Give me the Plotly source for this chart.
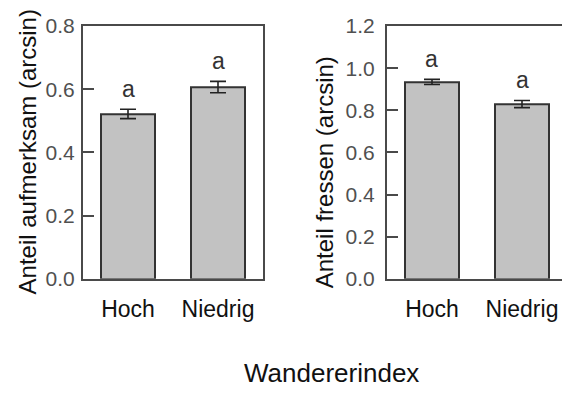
import plotly.graph_objects as go
from plotly.subplots import make_subplots

# Category labels (x axis)
categories = ["Hoch", "Niedrig"]

# Left panel: share attentive (arcsin-transformed), mean and SE
aufmerksam_mean = [0.522, 0.607]
aufmerksam_se = [0.015, 0.018]

# Right panel: share feeding (arcsin-transformed), mean and SE
fressen_mean = [0.935, 0.830]
fressen_se = [0.012, 0.017]

# Significance letters
letters_left = ["a", "a"]
letters_right = ["a", "a"]

left_ticks = [0.0, 0.2, 0.4, 0.6, 0.8]
right_ticks = [0.0, 0.2, 0.4, 0.6, 0.8, 1.0, 1.2]

FONT = "Liberation Sans, Arial, Helvetica, sans-serif"
W, H = 562, 401
BAR_FILL = "#c2c2c2"
BAR_LINE = "#333333"
AXIS_COL = "#4a4a4a"
TICK_FONT = dict(family=FONT, size=21, color="#505050")
CAT_FONT = dict(family=FONT, size=23, color="#111111")

fig = make_subplots(rows=1, cols=2)

for col, means, ses in [(1, aufmerksam_mean, aufmerksam_se), (2, fressen_mean, fressen_se)]:
    fig.add_trace(
        go.Bar(
            x=categories,
            y=means,
            width=0.61,
            marker=dict(color=BAR_FILL, line=dict(color=BAR_LINE, width=2)),
            error_y=dict(type="data", array=ses, color="#222222", thickness=1.6, width=8),
            showlegend=False,
            hoverinfo="skip",
        ),
        row=1, col=col,
    )

# Letters above each bar
for xref, yref, means, ses, letters in [
    ("x", "y", aufmerksam_mean, aufmerksam_se, letters_left),
    ("x2", "y2", fressen_mean, fressen_se, letters_right),
]:
    for cat, m, s, t in zip(categories, means, ses, letters):
        fig.add_annotation(
            x=cat, y=m + s, xref=xref, yref=yref, text=t, showarrow=False,
            yanchor="middle", yshift=20,
            font=dict(family=FONT, size=23, color="#333333"),
        )

y_top = 1 - 15 / H
y_bot = 1 - 283 / H

axis_common = dict(
    showline=True, linecolor=AXIS_COL, linewidth=2,
    showgrid=False, zeroline=False,
)

fig.update_layout(
    width=W, height=H,
    margin=dict(l=0, r=0, t=0, b=0),
    paper_bgcolor="white", plot_bgcolor="white",
    bargap=0,
    xaxis=dict(
        domain=[83 / W, 263 / W], range=[-0.5, 1.5], mirror=True,
        ticks="", tickfont=CAT_FONT, ticklabelstandoff=9,
        **axis_common,
    ),
    xaxis2=dict(
        domain=[387 / W, 1.0], range=[-0.5, -0.5 + 175 / 90], mirror=True,
        ticks="", tickfont=CAT_FONT, ticklabelstandoff=9,
        **axis_common,
    ),
    yaxis=dict(
        domain=[y_bot, y_top], range=[0, 0.8], mirror=True,
        tickvals=left_ticks, ticktext=[f"{v:.1f}" for v in left_ticks],
        ticks="inside", ticklen=11, tickwidth=2, tickcolor=AXIS_COL,
        tickfont=TICK_FONT, ticklabelstandoff=2,
        **axis_common,
    ),
    yaxis2=dict(
        domain=[y_bot, y_top], range=[0, 1.2], mirror=False,
        tickvals=right_ticks, ticktext=[f"{v:.1f}" for v in right_ticks],
        ticks="inside", ticklen=11, tickwidth=2, tickcolor=AXIS_COL,
        tickfont=TICK_FONT, ticklabelstandoff=6,
        **axis_common,
    ),
)

# Axis titles
fig.add_annotation(
    x=27 / W, y=1 - 149 / H, xref="paper", yref="paper",
    text="Anteil aufmerksam (arcsin)", textangle=-90, showarrow=False,
    xanchor="center", yanchor="middle",
    font=dict(family=FONT, size=24, color="#111111"),
)
fig.add_annotation(
    x=324 / W, y=1 - 170 / H, xref="paper", yref="paper",
    text="Anteil fressen (arcsin)", textangle=-90, showarrow=False,
    xanchor="center", yanchor="middle",
    font=dict(family=FONT, size=24, color="#111111"),
)
fig.add_annotation(
    x=331 / W, y=1 - 383 / H, xref="paper", yref="paper",
    text="Wandererindex", showarrow=False,
    xanchor="center", yanchor="middle",
    font=dict(family=FONT, size=26, color="#111111"),
)

fig.write_html("out.html")
